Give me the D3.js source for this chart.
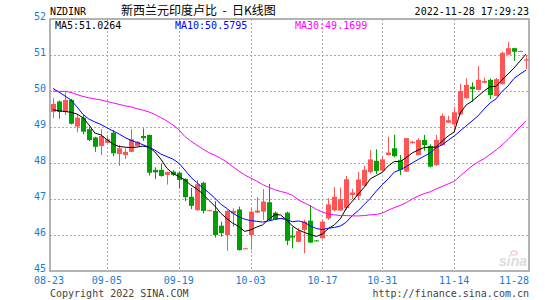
<!DOCTYPE html>
<html>
<head>
<meta charset="utf-8">
<script src="https://cdn.jsdelivr.net/npm/d3@7"></script>
<style>
    body { margin: 0; background: #fff; }
    svg { display: block; }
</style>
</head>
<body>
<svg id="chart" width="545" height="300"></svg>
<script>
// trading days shown on the chart (Sina forex daily bars)
const dates = [
    '08-23', '08-24', '08-25', '08-26', '08-29', '08-30', '08-31', '09-01', '09-02',
    '09-05', '09-06', '09-07', '09-08', '09-09', '09-10', '09-12', '09-13', '09-14', '09-15', '09-16', '09-17',
    '09-19', '09-20', '09-21', '09-22', '09-23', '09-24', '09-26', '09-27', '09-28', '09-29', '09-30', '10-01',
    '10-03', '10-04', '10-05', '10-06', '10-07', '10-08', '10-10', '10-11', '10-12', '10-13', '10-14', '10-15',
    '10-17', '10-18', '10-19', '10-20', '10-21', '10-24', '10-25', '10-26', '10-27', '10-28',
    '10-31', '11-01', '11-02', '11-03', '11-04', '11-05', '11-07', '11-08', '11-09', '11-10', '11-11', '11-12',
    '11-14', '11-15', '11-16', '11-17', '11-18', '11-19', '11-21', '11-22', '11-23', '11-24', '11-25', '11-26',
    '11-28'
];

const openP = [
    49.42, 49.71, 49.42, 49.75, 49.01, 49.26, 48.94, 48.71, 48.47, 48.56,
    48.84, 48.25, 48.22, 48.31, 48.47, 48.75, 48.78, 47.81, 47.81, 47.67,
    47.76, 47.73, 47.56, 47.06, 46.69, 47.45, 46.67, 46.67, 46.26, 46.00,
    46.60, 46.71, 45.62, 46.00, 46.62, 46.65, 46.91, 46.62, 46.46, 46.62,
    45.97, 45.81, 46.14, 46.40, 45.85, 45.91, 46.46, 46.69, 46.68, 46.75,
    47.11, 47.08, 47.37, 47.75, 48.06, 47.79, 48.22, 48.41, 48.08, 47.76,
    48.55, 48.22, 48.64, 48.47, 47.94, 48.50, 49.12, 49.07, 49.35, 49.80,
    50.12, 50.03, 50.23, 50.31, 49.86, 50.19, 51.01, 51.19, 51.10, 50.84
];
const highP = [
    49.80, 49.74, 49.96, 49.78, 49.35, 49.33, 49.01, 48.73, 48.94, 48.78,
    48.92, 48.50, 48.41, 48.94, 48.61, 48.96, 48.79, 47.88, 47.99, 47.76,
    47.80, 47.76, 47.57, 47.31, 47.53, 47.48, 46.70, 46.94, 46.37, 46.69,
    46.74, 46.79, 45.64, 46.74, 47.05, 47.27, 47.42, 46.65, 46.48, 46.65,
    46.23, 46.19, 46.42, 46.83, 45.86, 46.42, 47.02, 47.33, 47.32, 47.64,
    47.28, 47.75, 47.92, 48.36, 48.38, 48.17, 48.73, 48.78, 48.22, 48.70,
    48.61, 48.69, 48.78, 48.52, 48.78, 49.38, 49.31, 49.56, 50.19, 50.35,
    50.24, 50.69, 50.37, 50.35, 50.36, 51.09, 51.36, 51.20, 51.12, 51.00
];
const lowP = [
    49.24, 49.23, 49.33, 49.07, 48.85, 48.80, 48.61, 48.31, 48.22, 48.55,
    48.19, 47.92, 48.11, 48.30, 48.46, 48.61, 47.65, 47.55, 47.62, 47.40,
    47.64, 47.30, 46.94, 46.72, 46.67, 46.60, 46.66, 45.93, 45.95, 45.56,
    46.23, 45.57, 45.61, 45.58, 46.61, 46.42, 46.40, 46.42, 46.45, 45.72,
    45.63, 45.80, 45.49, 45.77, 45.83, 45.90, 46.42, 46.66, 46.67, 46.70,
    47.00, 46.97, 47.36, 47.71, 47.69, 47.78, 48.21, 48.16, 47.67, 47.75,
    48.54, 48.21, 48.34, 47.88, 47.92, 48.48, 49.11, 48.92, 49.34, 49.79,
    49.70, 50.02, 50.22, 49.78, 49.85, 50.18, 51.00, 50.84, 51.09, 50.60
];
const closeP = [
    49.64, 49.42, 49.75, 49.09, 49.26, 48.87, 48.64, 48.45, 48.75, 48.66,
    48.27, 48.41, 48.31, 48.66, 48.59, 48.69, 47.73, 47.74, 47.64, 47.75,
    47.67, 47.53, 47.05, 46.81, 47.41, 46.67, 46.69, 46.00, 46.05, 46.67,
    46.67, 45.58, 45.63, 46.65, 46.68, 46.93, 46.42, 46.44, 46.47, 45.84,
    45.93, 46.11, 46.37, 45.79, 45.84, 46.37, 46.85, 47.06, 47.00, 47.55,
    47.18, 47.54, 47.81, 48.10, 47.78, 48.10, 48.29, 48.19, 47.81, 48.69,
    48.59, 48.64, 48.50, 47.90, 48.64, 49.31, 49.19, 49.41, 50.00, 50.17,
    50.05, 50.31, 50.28, 49.89, 50.33, 51.06, 51.19, 51.09, 51.11, 50.88
];

const ma5 = [
    49.48, 49.45, 49.43, 49.41, 49.36, 49.26, 49.06, 48.83, 48.78, 48.65,
    48.53, 48.46, 48.44, 48.43, 48.44, 48.47, 48.44, 48.31, 48.11, 47.86,
    47.71, 47.63, 47.53, 47.39, 47.28, 47.15, 46.97, 46.81, 46.61, 46.46,
    46.33, 46.24, 46.10, 46.14, 46.22, 46.28, 46.43, 46.56, 46.56, 46.42,
    46.25, 46.14, 46.07, 46.01, 45.96, 46.03, 46.18, 46.28, 46.45, 46.75,
    46.94, 47.14, 47.33, 47.56, 47.65, 47.74, 47.92, 48.04, 48.04, 48.15,
    48.28, 48.36, 48.43, 48.44, 48.44, 48.61, 48.75, 48.86, 49.39, 49.61,
    49.72, 49.86, 50.00, 50.12, 50.13, 50.31, 50.47, 50.64, 50.83, 51.0264
];
const ma10 = [
    50.07, 49.97, 49.86, 49.75, 49.56, 49.35, 49.22, 49.14, 49.07, 48.98,
    48.89, 48.81, 48.71, 48.63, 48.57, 48.51, 48.44, 48.36, 48.25, 48.18,
    48.11, 48.00, 47.81, 47.61, 47.46, 47.31, 47.18, 47.03, 46.86, 46.74,
    46.61, 46.51, 46.44, 46.40, 46.38, 46.36, 46.39, 46.43, 46.46, 46.43,
    46.37, 46.39, 46.35, 46.25, 46.18, 46.15, 46.19, 46.21, 46.25, 46.36,
    46.54, 46.68, 46.85, 47.02, 47.22, 47.40, 47.56, 47.75, 47.81, 47.90,
    48.00, 48.10, 48.19, 48.28, 48.42, 48.51, 48.63, 48.75, 48.89, 49.03,
    49.17, 49.31, 49.50, 49.67, 49.78, 49.99, 50.14, 50.35, 50.47, 50.5795
];
const ma30 = [
    50.00, 49.99, 49.99, 49.96, 49.90, 49.85, 49.81, 49.78, 49.75, 49.71,
    49.67, 49.63, 49.59, 49.56, 49.51, 49.47, 49.42, 49.35, 49.26, 49.17,
    49.06, 48.93, 48.74, 48.61, 48.50, 48.39, 48.29, 48.22, 48.13, 48.03,
    47.90, 47.78, 47.67, 47.58, 47.50, 47.40, 47.33, 47.26, 47.21, 47.17,
    47.10, 46.97, 46.89, 46.81, 46.71, 46.64, 46.58, 46.56, 46.54, 46.54,
    46.53, 46.53, 46.54, 46.56, 46.57, 46.61, 46.69, 46.76, 46.82, 46.90,
    47.00, 47.08, 47.15, 47.20, 47.28, 47.35, 47.42, 47.49, 47.64, 47.78,
    47.92, 48.03, 48.12, 48.24, 48.36, 48.50, 48.65, 48.83, 49.00, 49.1699
];

const tickDates = ['08-23', '09-05', '09-19', '10-03', '10-17', '10-31', '11-14', '11-28'];
const yTicks = [45, 46, 47, 48, 49, 50, 51, 52];

const mono = "'DejaVu Sans Mono', 'Liberation Mono', monospace";
const axisBlue = '#1a7bd0';
const upColor = '#ff5555';
const downColor = '#00a000';

function renderChart() {
    const svg = d3.select('#chart');
    const left = 50, right = 529, top = 19, bottom = 271;

    const x = d3.scaleBand()
        .domain(d3.range(dates.length))
        .range([left, right])
        .paddingInner(0.2)
        .paddingOuter(0.1);
    const cx = (i) => x(i) + x.bandwidth() / 2;
    const y = d3.scaleLinear().domain([45, 52]).range([bottom, top]);

    // dotted grid
    const grid = svg.append('g')
        .attr('stroke', '#aaa')
        .attr('stroke-dasharray', '2,2')
        .attr('stroke-width', 1);
    grid.selectAll('line.h')
        .data(yTicks.slice(1, -1))
        .enter()
        .append('line')
        .attr('x1', left)
        .attr('x2', right)
        .attr('y1', (d) => Math.round(y(d)) + 0.5)
        .attr('y2', (d) => Math.round(y(d)) + 0.5);
    grid.selectAll('line.v')
        .data(tickDates.slice(1, -1))
        .enter()
        .append('line')
        .attr('x1', (d) => Math.round(cx(dates.indexOf(d))) + 0.5)
        .attr('x2', (d) => Math.round(cx(dates.indexOf(d))) + 0.5)
        .attr('y1', top)
        .attr('y2', bottom);

    // faint sina watermark
    const wm = svg.append('g').attr('opacity', 0.8);
    wm.append('ellipse')
        .attr('cx', 514)
        .attr('cy', 253)
        .attr('rx', 3)
        .attr('ry', 2.2)
        .attr('fill', 'none')
        .attr('stroke', '#f2b8b8')
        .attr('stroke-width', 1.2);
    wm.append('text')
        .attr('x', 527)
        .attr('y', 266)
        .attr('text-anchor', 'end')
        .style('font', "italic bold 14px 'Liberation Sans', Arial, sans-serif")
        .attr('fill', '#d4d4d4')
        .text('sina');

    // candles
    const candle = svg.append('g')
        .selectAll('g')
        .data(d3.range(dates.length))
        .enter()
        .append('g')
        .attr('fill', (i) => (closeP[i] >= openP[i] ? upColor : downColor))
        .attr('stroke', (i) => (closeP[i] >= openP[i] ? upColor : downColor));

    candle.append('line')
        .attr('x1', (i) => Math.round(cx(i)) + 0.5)
        .attr('x2', (i) => Math.round(cx(i)) + 0.5)
        .attr('y1', (i) => y(highP[i]))
        .attr('y2', (i) => y(lowP[i]))
        .attr('stroke-width', 1);

    candle.append('rect')
        .attr('stroke', 'none')
        .attr('x', (i) => Math.round(cx(i)) - 2)
        .attr('width', 5)
        .attr('y', (i) => y(Math.max(openP[i], closeP[i])))
        .attr('height', (i) => Math.max(1, Math.abs(y(openP[i]) - y(closeP[i]))));

    // moving averages
    const maLine = d3.line()
        .x((d, i) => cx(i))
        .y((d) => y(d));
    const series = [
        { name: 'MA5', values: ma5, color: '#000000' },
        { name: 'MA10', values: ma10, color: '#0000ff' },
        { name: 'MA30', values: ma30, color: '#ff00ff' },
    ];
    svg.append('g')
        .attr('fill', 'none')
        .attr('stroke-width', 1)
        .selectAll('path')
        .data(series)
        .enter()
        .append('path')
        .attr('stroke', (d) => d.color)
        .attr('d', (d) => maLine(d.values));

    // frame
    svg.append('rect')
        .attr('x', left)
        .attr('y', top)
        .attr('width', right - left)
        .attr('height', bottom - top)
        .attr('fill', 'none')
        .attr('stroke', '#9a9a9a')
        .attr('stroke-width', 1.5);

    // y labels
    svg.append('g')
        .selectAll('text')
        .data(yTicks)
        .enter()
        .append('text')
        .attr('x', 46)
        .attr('y', (d) => y(d) + 1)
        .attr('text-anchor', 'end')
        .attr('fill', axisBlue)
        .style('font', `10px ${mono}`)
        .text((d) => d);

    // x labels
    svg.append('g')
        .selectAll('text')
        .data(tickDates)
        .enter()
        .append('text')
        .attr('x', (d, i) => (i === 0 ? left - 1 : i === tickDates.length - 1 ? right : cx(dates.indexOf(d))))
        .attr('y', 284)
        .attr('text-anchor', (d, i) => (i === tickDates.length - 1 ? 'end' : 'middle'))
        .attr('fill', axisBlue)
        .style('font', `10px ${mono}`)
        .text((d) => d);

    // header
    svg.append('text')
        .attr('x', left)
        .attr('y', 15)
        .style('font', `10px ${mono}`)
        .attr('fill', '#000')
        .text('NZDINR');
    svg.append('text')
        .attr('x', 121)
        .attr('y', 15)
        .style('font', "12px 'Noto Sans CJK SC', sans-serif")
        .style('white-space', 'pre')
        .attr('fill', '#000')
        .text('新西兰元印度卢比  -  日K线图');
    svg.append('text')
        .attr('x', right)
        .attr('y', 15)
        .attr('text-anchor', 'end')
        .style('font', `10px ${mono}`)
        .attr('fill', '#000')
        .text('2022-11-28 17:29:23');

    const maX = [55, 175, 295];
    svg.append('g')
        .selectAll('text')
        .data(series)
        .enter()
        .append('text')
        .attr('x', (d, i) => maX[i])
        .attr('y', 28.5)
        .attr('fill', (d) => d.color)
        .style('font', `10px ${mono}`)
        .text((d) => `${d.name}:${d.values[d.values.length - 1].toFixed(4)}`);

    // footer
    svg.append('text')
        .attr('x', left)
        .attr('y', 297)
        .attr('fill', '#444')
        .style('font', `10px ${mono}`)
        .text('Copyright 2022 SINA.COM');
    svg.append('text')
        .attr('x', right)
        .attr('y', 297)
        .attr('text-anchor', 'end')
        .attr('fill', '#444')
        .style('font', `10px ${mono}`)
        .text('http://finance.sina.com.cn');
}

renderChart();
</script>
</body>
</html>
